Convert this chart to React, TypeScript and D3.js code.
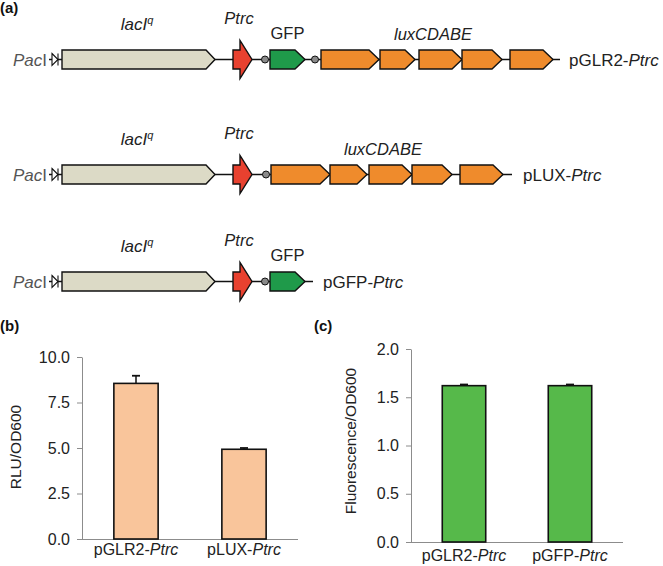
import React, { useRef, useEffect } from 'react';
import * as d3 from 'd3';

// ---- panel (a): plasmid constructs (positions in diagram units) ----
const constructNames = ['pGLR2-', 'pLUX-', 'pGFP-'];
const constructRows = [59.5, 174.5, 281.5];
const lacIGene = [62, 215];
const ptrcPromoter = [233, 252];
const gfpGenes = [[270, 305], null, [270, 305]];
const luxGenes = [
  [[321, 379], [380, 415], [419, 462], [462, 502], [510, 553]],
  [[271, 330], [330, 367], [369, 412], [412, 452], [460, 503]],
  [],
];
const spacers = [[265, 315], [266], [265]];
const backboneEnd = [560, 512, 313];
const nameStart = [569, 523, 323];

// ---- panel (b): luminescence ----
const lumCategories = ['pGLR2-', 'pLUX-'];
const lumValues = [8.55, 4.93];
const lumErrors = [0.42, 0.07];
const lumTicks = [0, 2.5, 5, 7.5, 10];

// ---- panel (c): fluorescence ----
const fluoCategories = ['pGLR2-', 'pGFP-'];
const fluoValues = [1.62, 1.62];
const fluoErrors = [0.012, 0.012];
const fluoTicks = [0, 0.5, 1, 1.5, 2];

const FONT = '"Liberation Sans", Arial, sans-serif';
const AXIS = '#8c8c8c';

const drawBars = (svg, cfg) => {
  const y = d3.scaleLinear()
    .domain([cfg.ticks[0], cfg.ticks[cfg.ticks.length - 1]])
    .range([cfg.y0, cfg.y1]);
  const x = d3.scalePoint()
    .domain(cfg.categories)
    .range([cfg.x0, cfg.x1])
    .padding(0.5);
  const barW = x.step() * 0.41;
  const g = svg.append('g');

  const yAxis = g.append('g')
    .attr('transform', `translate(${cfg.x0},0)`)
    .call(d3.axisLeft(y).tickValues(cfg.ticks).tickFormat(d3.format('.1f'))
      .tickSize(5).tickSizeOuter(0).tickPadding(7));
  yAxis.select('.domain').attr('stroke', AXIS);
  yAxis.selectAll('.tick line').attr('stroke', AXIS);
  yAxis.selectAll('text')
    .attr('font-size', 16)
    .attr('font-family', FONT)
    .attr('fill', '#222');

  g.append('line')
    .attr('x1', cfg.x0).attr('x2', cfg.x1)
    .attr('y1', cfg.y0 + 0.5).attr('y2', cfg.y0 + 0.5)
    .attr('stroke', AXIS);

  // bars
  g.selectAll('.bar')
    .data(cfg.values)
    .enter()
    .append('rect')
    .attr('x', (d, i) => x(cfg.categories[i]) - barW / 2)
    .attr('y', d => y(d))
    .attr('width', barW)
    .attr('height', d => cfg.y0 - y(d))
    .attr('fill', cfg.color)
    .attr('stroke', '#111')
    .attr('stroke-width', 1.6);

  // error bars (plus only)
  cfg.values.forEach((v, i) => {
    const cx = x(cfg.categories[i]);
    g.append('line')
      .attr('x1', cx).attr('x2', cx)
      .attr('y1', y(v)).attr('y2', y(v + cfg.errors[i]))
      .attr('stroke', '#111').attr('stroke-width', 1.5);
    g.append('line')
      .attr('x1', cx - 4).attr('x2', cx + 4)
      .attr('y1', y(v + cfg.errors[i])).attr('y2', y(v + cfg.errors[i]))
      .attr('stroke', '#111').attr('stroke-width', 1.8);
  });

  // category labels
  cfg.categories.forEach(c => {
    const t = g.append('text')
      .attr('x', x(c))
      .attr('y', cfg.labelY)
      .attr('text-anchor', 'middle')
      .attr('font-size', 16)
      .attr('font-family', FONT)
      .attr('fill', '#222');
    t.append('tspan').text(c);
    t.append('tspan').attr('font-style', 'italic').text('Ptrc');
  });

  g.append('text')
    .attr('transform', `translate(${cfg.titleX},${cfg.titleY}) rotate(-90)`)
    .attr('text-anchor', 'middle')
    .attr('dominant-baseline', 'central')
    .attr('font-size', 15.5)
    .attr('font-family', FONT)
    .attr('fill', '#222')
    .text(cfg.title);
};

const geneArrow = (x0, x1, cy, h, head) => {
  const p = d3.path();
  p.moveTo(x0, cy - h / 2);
  p.lineTo(x1 - head, cy - h / 2);
  p.lineTo(x1, cy);
  p.lineTo(x1 - head, cy + h / 2);
  p.lineTo(x0, cy + h / 2);
  p.closePath();
  return p.toString();
};

const drawConstructs = (svg) => {
  const xs = d3.scaleLinear().domain([0, 663]).range([0, 663]);
  const H = 19;

  constructNames.forEach((name, r) => {
    const cy = constructRows[r];
    const g = svg.append('g');

    // backbone
    g.append('line')
      .attr('x1', xs(49)).attr('x2', xs(backboneEnd[r]))
      .attr('y1', cy).attr('y2', cy)
      .attr('stroke', '#111').attr('stroke-width', 1.4);

    // PacI label and site marker
    const pac = g.append('text')
      .attr('x', xs(47)).attr('y', cy + 6)
      .attr('text-anchor', 'end')
      .attr('font-size', 17)
      .attr('font-family', FONT)
      .attr('fill', '#555');
    pac.append('tspan').attr('font-style', 'italic').text('Pac');
    pac.append('tspan').text('I');
    g.append('path')
      .attr('d', `M${xs(52)},${cy - 6}L${xs(58)},${cy}L${xs(52)},${cy + 6}Z`)
      .attr('fill', '#fff').attr('stroke', '#111').attr('stroke-width', 1.1);
    g.append('line')
      .attr('x1', xs(58)).attr('x2', xs(58))
      .attr('y1', cy - 6).attr('y2', cy + 6)
      .attr('stroke', '#111').attr('stroke-width', 1.1);

    // lacIq
    g.append('path')
      .attr('d', geneArrow(xs(lacIGene[0]), xs(lacIGene[1]), cy, H, 9))
      .attr('fill', '#dcdac6').attr('stroke', '#111').attr('stroke-width', 1.4);
    const lac = g.append('text')
      .attr('x', xs(137)).attr('y', cy - 30)
      .attr('text-anchor', 'middle')
      .attr('font-size', 17)
      .attr('font-style', 'italic')
      .attr('font-family', FONT)
      .attr('fill', '#222');
    lac.append('tspan').text('lacI');
    lac.append('tspan').attr('font-size', 11).attr('dy', -6).text('q');

    // Ptrc promoter
    const [p0, p1] = ptrcPromoter.map(xs);
    g.append('path')
      .attr('d', `M${p0},${cy - 9.5}L${p0 + 7},${cy - 9.5}L${p0 + 7},${cy - 19}L${p1},${cy}L${p0 + 7},${cy + 19}L${p0 + 7},${cy + 9.5}L${p0},${cy + 9.5}Z`)
      .attr('fill', '#e8412f').attr('stroke', '#111').attr('stroke-width', 1.4);
    g.append('text')
      .attr('x', xs(239)).attr('y', cy - 36)
      .attr('text-anchor', 'middle')
      .attr('font-size', 16.5)
      .attr('font-style', 'italic')
      .attr('font-family', FONT)
      .attr('fill', '#222')
      .text('Ptrc');

    // spacer circles
    spacers[r].forEach(sx => {
      g.append('circle')
        .attr('cx', xs(sx)).attr('cy', cy).attr('r', 3.5)
        .attr('fill', '#8a8a8a').attr('stroke', '#111').attr('stroke-width', 1);
    });

    // GFP
    if (gfpGenes[r]) {
      const [g0, g1] = gfpGenes[r];
      g.append('path')
        .attr('d', geneArrow(xs(g0), xs(g1), cy, H, 10))
        .attr('fill', '#1f9a4a').attr('stroke', '#111').attr('stroke-width', 1.4);
      g.append('text')
        .attr('x', xs((g0 + g1) / 2)).attr('y', cy - 21)
        .attr('text-anchor', 'middle')
        .attr('font-size', 16.5)
        .attr('font-family', FONT)
        .attr('fill', '#222')
        .text('GFP');
    }

    // lux operon
    if (luxGenes[r].length) {
      luxGenes[r].forEach(([l0, l1]) => {
        g.append('path')
          .attr('d', geneArrow(xs(l0), xs(l1), cy, H, 10))
          .attr('fill', '#ef8b2c').attr('stroke', '#111').attr('stroke-width', 1.4);
      });
      const lx = (luxGenes[r][0][0] + luxGenes[r][luxGenes[r].length - 1][1]) / 2;
      g.append('text')
        .attr('x', xs(lx - 4)).attr('y', cy - 20)
        .attr('text-anchor', 'middle')
        .attr('font-size', 16.5)
        .attr('font-style', 'italic')
        .attr('font-family', FONT)
        .attr('fill', '#222')
        .text('luxCDABE');
    }

    // construct name
    const nt = g.append('text')
      .attr('x', xs(nameStart[r])).attr('y', cy + 6.5)
      .attr('font-size', 17)
      .attr('font-family', FONT)
      .attr('fill', '#222');
    nt.append('tspan').text(name);
    nt.append('tspan').attr('font-style', 'italic').text('Ptrc');
  });
};

const App = () => {
  const svgRef = useRef();

  useEffect(() => {
    const svg = d3.select(svgRef.current);
    svg.selectAll('*').remove();

    const panelLabel = (x, y, t) => svg.append('text')
      .attr('x', x).attr('y', y)
      .attr('font-size', 15)
      .attr('font-weight', 'bold')
      .attr('font-family', FONT)
      .attr('fill', '#111')
      .text(t);
    panelLabel(0, 13, '(a)');
    panelLabel(0, 331, '(b)');
    panelLabel(314, 331, '(c)');

    drawConstructs(svg);

    drawBars(svg, {
      categories: lumCategories, values: lumValues, errors: lumErrors, ticks: lumTicks,
      x0: 82, x1: 298, y0: 539, y1: 357, color: '#f9c59b',
      labelY: 555, title: 'RLU/OD600', titleX: 15, titleY: 447,
    });

    drawBars(svg, {
      categories: fluoCategories, values: fluoValues, errors: fluoErrors, ticks: fluoTicks,
      x0: 411, x1: 623, y0: 542, y1: 349, color: '#56b94a',
      labelY: 561, title: 'Fluorescence/OD600', titleX: 350, titleY: 441,
    });
  }, []);

  return (
    <svg
      ref={svgRef}
      width={663}
      height={566}
      style={{ position: 'absolute', left: 0, top: 0, background: '#fff' }}
    />
  );
};

export default App;
